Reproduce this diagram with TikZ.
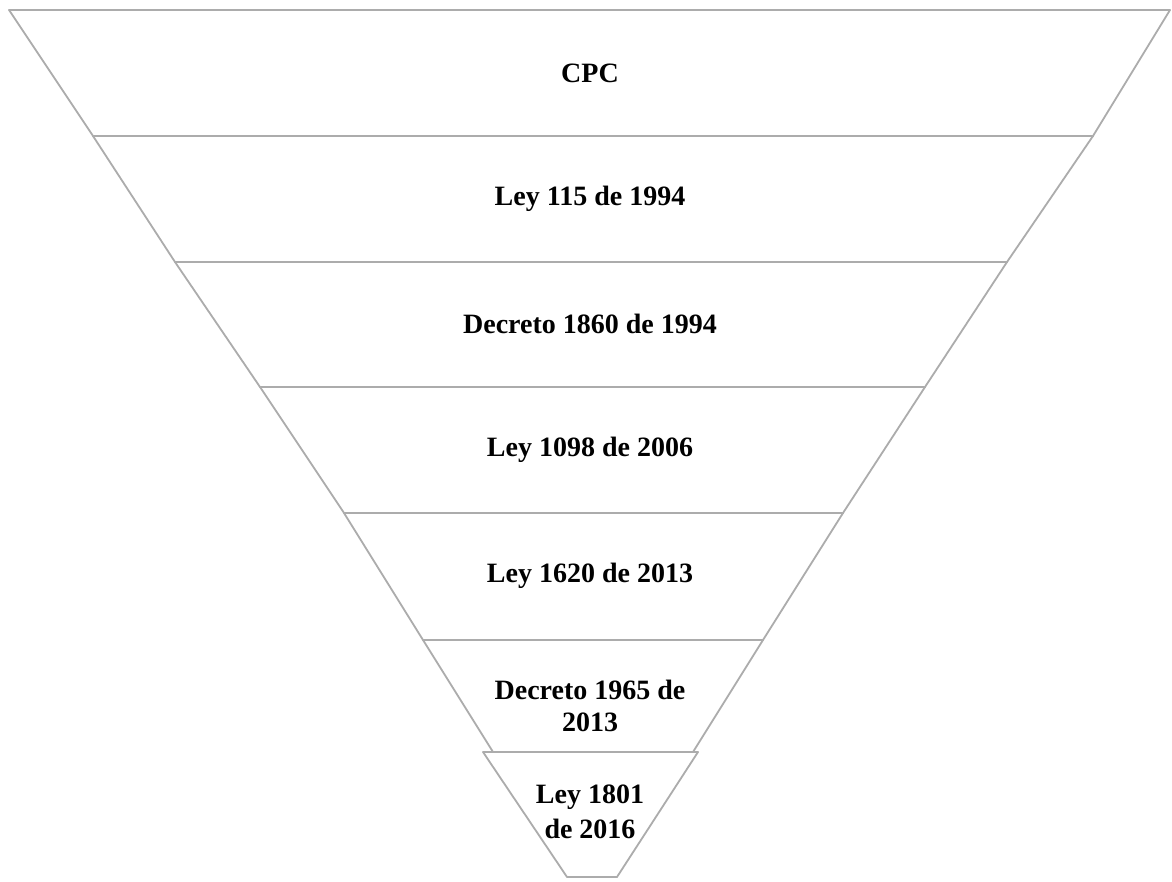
\documentclass[tikz,border=0pt]{standalone}
\usepackage{fontspec}
\setmainfont{Liberation Serif}
\usepackage{tikz}
\newcommand{\lb}{\bfseries\fontsize{14}{16}\selectfont}

\tikzset{
  layer/.style={draw=gray!65,line width=0.9pt,fill=white,line join=round},
  lbl/.style={font=\lb,align=center}
}

\begin{document}
\begin{tikzpicture}[x=0.5pt,y=-0.5pt]
       \useasboundingbox (0,0) rectangle (1172,882);
       \draw[layer] (9,10) -- (1170,10) -- (1093,136) -- (93,136) -- cycle;
       \draw[layer] (93,136) -- (1093,136) -- (1007,262) -- (175,262) -- cycle;
       \draw[layer] (175,262) -- (1007,262) -- (925,387) -- (260,387) -- cycle;
       \draw[layer] (260,387) -- (925,387) -- (843,513) -- (344,513) -- cycle;
       \draw[layer] (344,513) -- (843,513) -- (763,640) -- (423,640) -- cycle;
       \draw[layer] (423,640) -- (763,640) -- (693,752) -- (493,752) -- cycle;
       \draw[layer] (483,752) -- (698,752) -- (617,877) -- (567,877) -- cycle;
       \node[lbl] (cpc)  at (590, 73) {CPC};
       \node[lbl] (l115) at (590,199) {Ley 115 de 1994};
       \node[lbl] (d1860) at (590,324) {Decreto 1860 de 1994};
       \node[lbl] (l1098) at (590,450) {Ley 1098 de 2006};
       \node[lbl] (l1620) at (590,576) {Ley 1620 de 2013};
       \node[lbl] (d1965) at (590,706) {Decreto 1965 de\\2013};
       \node[lbl] (l1801) at (590,812) {Ley 1801\\[1.5pt]de 2016};
      \end{tikzpicture}
\end{document}
